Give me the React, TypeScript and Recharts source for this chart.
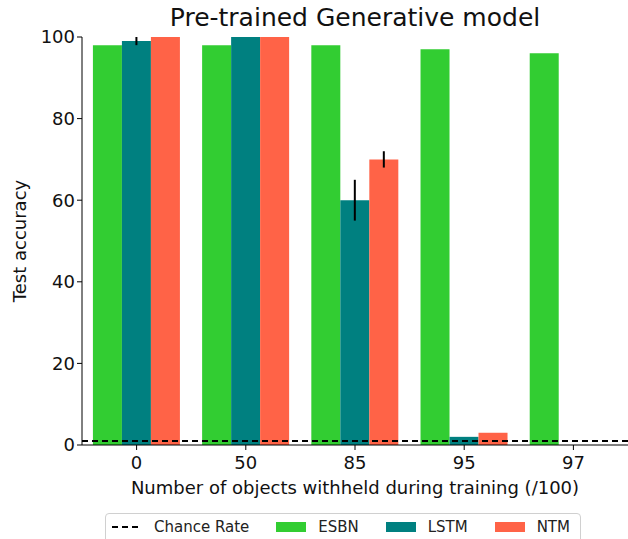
import { BarChart, Bar, XAxis, YAxis, ErrorBar, ReferenceLine } from 'recharts'

const categories = ['0', '50', '85', '95', '97']
const esbn = [98, 98, 98, 97, 96]
const lstm = [99, 100, 60, 2, 0]
const lstmErr = [1, 0, 5, 0, 0]
const ntm = [100, 100, 70, 3, 0]
const ntmErr = [0, 0, 2, 0, 0]
const chanceRate = 1
const yTicks = [0, 20, 40, 60, 80, 100]

const COLORS = { esbn: '#32CD32', lstm: '#008080', ntm: '#FF6347' }
const FONT = '"DejaVu Sans", sans-serif'

const data = categories.map((c, i) => ({
  cat: c,
  ESBN: esbn[i],
  LSTM: lstm[i],
  lstmErr: lstmErr[i],
  NTM: ntm[i],
  ntmErr: ntmErr[i],
}))

function LegendBox() {
  const item = { display: 'flex', alignItems: 'center' } as const
  const patch = (c: string) => <span style={{ display: 'inline-block', width: 30, height: 10, background: c, marginRight: 12 }} />
  return (
    <div style={{
      position: 'absolute', left: 105, top: 513, width: 476, height: 40,
      border: '1px solid #d0d0d0', borderRadius: 4, boxSizing: 'border-box',
      display: 'flex', alignItems: 'flex-start', justifyContent: 'space-between',
      padding: '4px 10px 0 6px', fontFamily: FONT, fontSize: 15, color: '#222', background: '#fff',
    }}>
      <span style={item}>
        <svg width={30} height={4} style={{ marginRight: 12 }}>
          <line x1={0} y1={2} x2={30} y2={2} stroke="#000" strokeWidth={2} strokeDasharray="6 4" />
        </svg>
        Chance Rate
      </span>
      <span style={item}>{patch(COLORS.esbn)}ESBN</span>
      <span style={item}>{patch(COLORS.lstm)}LSTM</span>
      <span style={item}>{patch(COLORS.ntm)}NTM</span>
    </div>
  )
}

export default function App() {
  return (
    <div style={{ position: 'absolute', left: 0, top: 0, width: 628, height: 539, overflow: 'hidden', background: '#fff', fontFamily: FONT }}>
      <div style={{ position: 'absolute', left: 82, width: 546, top: 3, textAlign: 'center', fontSize: 25, color: '#111' }}>
        Pre-trained Generative model
      </div>
      <BarChart
        width={628}
        height={539}
        data={data}
        margin={{ top: 37, right: 0, bottom: 64, left: 0 }}
        barCategoryGap="10%"
        barGap={0}
      >
        <XAxis
          dataKey="cat"
          height={30}
          tick={{ fontSize: 18, fill: '#111', fontFamily: FONT }}
          tickLine={{ stroke: '#000' }}
          axisLine={{ stroke: '#000' }}
          tickSize={5}
          tickMargin={6}
          label={{ value: 'Number of objects withheld during training (/100)', position: 'insideBottom', offset: -19, fontSize: 18, fill: '#111', fontFamily: FONT }}
        />
        <YAxis
          domain={[0, 100]}
          ticks={yTicks}
          width={82}
          tick={{ fontSize: 18, fill: '#111', fontFamily: FONT }}
          tickLine={{ stroke: '#000' }}
          axisLine={{ stroke: '#000' }}
          tickSize={5}
          label={{ value: 'Test accuracy', angle: -90, position: 'insideLeft', offset: 20, fontSize: 18, fill: '#111', fontFamily: FONT, style: { textAnchor: 'middle' } }}
        />
        <Bar dataKey="ESBN" fill={COLORS.esbn} isAnimationActive={false} />
        <Bar dataKey="LSTM" fill={COLORS.lstm} isAnimationActive={false}>
          <ErrorBar dataKey="lstmErr" width={0} stroke="#000" strokeWidth={2} />
        </Bar>
        <Bar dataKey="NTM" fill={COLORS.ntm} isAnimationActive={false}>
          <ErrorBar dataKey="ntmErr" width={0} stroke="#000" strokeWidth={2} />
        </Bar>
        <ReferenceLine y={chanceRate} stroke="#000" strokeWidth={2} strokeDasharray="6 4" />
      </BarChart>
      <LegendBox />
    </div>
  )
}
